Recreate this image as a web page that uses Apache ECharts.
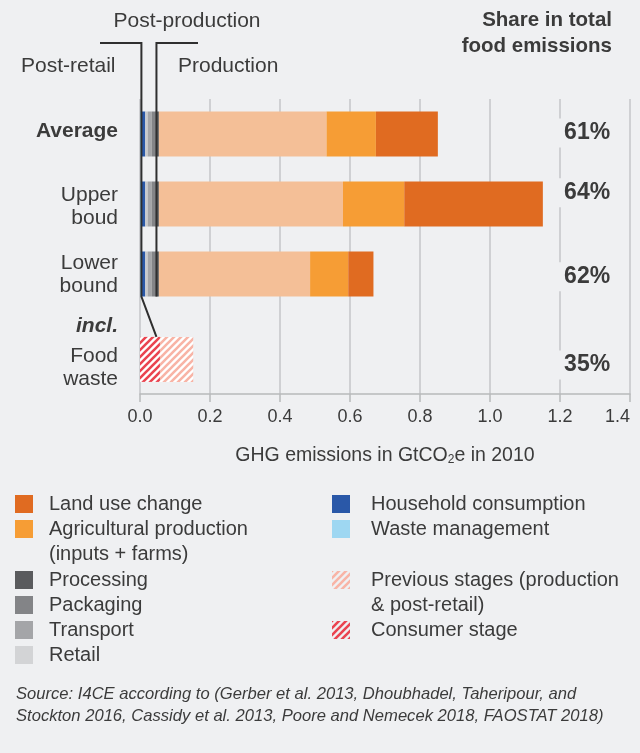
<!DOCTYPE html>
<html>
<head>
<meta charset="utf-8">
<script src="https://cdn.jsdelivr.net/npm/echarts@6/dist/echarts.min.js"></script>
<style>
  html, body { margin: 0; padding: 0; background: #eff0f2; }
  #chart { width: 640px; height: 753px; }
</style>
</head>
<body>
<div id="chart"></div>
<script>
// rows of the stacked bars
const rows = ['Average', 'Upper boud', 'Lower bound'];
// GHG emissions by stage, GtCO2e (left to right in each bar)
const wasteManagement = [0.003, 0.003, 0.003];
const householdConsumption = [0.012, 0.012, 0.012];
const retail = [0.007, 0.007, 0.007];
const transport = [0.012, 0.012, 0.012];
const packaging = [0.010, 0.010, 0.010];
const processing = [0.010, 0.010, 0.010];
const otherProduction = [0.479, 0.526, 0.432];
const agriculturalProduction = [0.141, 0.175, 0.109];
const landUseChange = [0.177, 0.396, 0.072];
// food waste bar
const consumerStage = [0.057];
const previousStages = [0.095];
// share in total food emissions
const shares = ['61%', '64%', '62%', '35%'];
const xTicks = [0, 0.2, 0.4, 0.6, 0.8, 1.0, 1.2, 1.4];

// layout (row positions on the hidden y scale)
const barRows = [1, 2, 3];
const foodRow = 4.22;
const BAR_H = 0.643;
const rowLabels = ['Average', 'Upper\nboud', 'Lower\nbound', 'incl.', 'Food\nwaste'];
const rowLabelPos = [0.965, 2.04, 3.01, 3.74, 4.34];
const shareLabelPos = [0.985, 1.84, 3.04, 4.3];

const FONT = '"Liberation Sans", Arial, Helvetica, sans-serif';
const TEXT = '#3b3b3b';
const BG = '#eff0f2';

function hatch(color, bg) {
  const s = 7;
  const c = document.createElement('canvas');
  c.width = s; c.height = s;
  const ctx = c.getContext('2d');
  ctx.fillStyle = bg;
  ctx.fillRect(0, 0, s, s);
  ctx.strokeStyle = color;
  ctx.lineWidth = 2.6;
  ctx.beginPath();
  ctx.moveTo(-s, s); ctx.lineTo(s, -s);
  ctx.moveTo(0, s); ctx.lineTo(s, 0);
  ctx.moveTo(0, 2 * s); ctx.lineTo(2 * s, 0);
  ctx.stroke();
  return { image: c, repeat: 'repeat' };
}

const consumerFill = hatch('#ea4450', '#ffffff');
const previousFill = hatch('#f8b4a6', '#ffffff');

const stages = [
  { name: 'Waste management', values: wasteManagement, color: '#9ed7f2' },
  { name: 'Household consumption', values: householdConsumption, color: '#2a58a8' },
  { name: 'Retail', values: retail, color: '#c9cacc' },
  { name: 'Transport', values: transport, color: '#a4a5a8' },
  { name: 'Packaging', values: packaging, color: '#838487' },
  { name: 'Processing', values: processing, color: '#5a5b5e' },
  { name: 'Production (other)', values: otherProduction, color: '#f4bf97' },
  { name: 'Agricultural production', values: agriculturalProduction, color: '#f69d35' },
  { name: 'Land use change', values: landUseChange, color: '#e06b21' }
];

// cumulative starts for the stacked segments
const cum = rows.map(() => 0);
const stageSeries = stages.map(st => {
  const data = rows.map((r, k) => {
    const start = cum[k];
    cum[k] += st.values[k];
    return [start, cum[k], barRows[k]];
  });
  return { name: st.name, fill: st.color, data: data };
});
stageSeries.push({ name: 'Consumer stage', fill: consumerFill,
  data: [[0, consumerStage[0], foodRow]] });
stageSeries.push({ name: 'Previous stages', fill: previousFill,
  data: [[consumerStage[0], consumerStage[0] + previousStages[0], foodRow]] });

function barSeries(s) {
  return {
    type: 'custom',
    name: s.name,
    silent: true,
    encode: { x: [0, 1], y: 2 },
    data: s.data,
    renderItem: function (params, api) {
      const p0 = api.coord([api.value(0), api.value(2)]);
      const p1 = api.coord([api.value(1), api.value(2)]);
      const h = api.size([0, BAR_H])[1];
      return {
        type: 'rect',
        shape: { x: p0[0], y: p0[1] - h / 2, width: p1[0] - p0[0], height: h },
        style: { fill: s.fill }
      };
    }
  };
}

const chart = echarts.init(document.getElementById('chart'));

const option = {
  backgroundColor: BG,
  animation: false,
  grid: { left: 140, right: 10, top: 99, bottom: 359 },
  xAxis: {
    type: 'value',
    min: 0,
    max: 1.4,
    interval: 0.2,
    axisLine: { show: true, lineStyle: { color: '#b8b9bb', width: 1.5 } },
    axisTick: { show: true, length: 8, lineStyle: { color: '#b8b9bb', width: 1.5 } },
    splitLine: { show: true, lineStyle: { color: '#c5c6c8', width: 1.5 } },
    axisLabel: {
      margin: 14,
      fontSize: 18,
      fontFamily: FONT,
      color: TEXT,
      alignMaxLabel: 'right',
      formatter: v => xTicks.includes(+v.toFixed(1)) ? v.toFixed(1) : ''
    },
    name: 'GHG emissions in GtCO{sub|2}e in 2010',
    nameLocation: 'middle',
    nameGap: 51,
    nameTextStyle: {
      fontSize: 19.5,
      fontFamily: FONT,
      color: TEXT,
      rich: { sub: { fontSize: 12, fontFamily: FONT, color: TEXT, verticalAlign: 'bottom', padding: [9, 0, 0, 0] } }
    }
  },
  yAxis: { type: 'value', min: 0.5, max: 4.7143, inverse: true, show: false },
  series: stageSeries.map(barSeries).concat([
    {
      type: 'custom',
      name: 'rowLabels',
      silent: true,
      encode: { x: 0, y: 1 },
      data: rowLabelPos.map((p, i) => [0, p, i]),
      renderItem: function (params, api) {
        const p = api.coord([0, api.value(1)]);
        const i = api.value(2);
        return {
          type: 'text',
          x: p[0] - 22,
          y: p[1],
          style: {
            text: rowLabels[i],
            textAlign: 'right',
            textVerticalAlign: 'middle',
            fontSize: 21,
            lineHeight: 23,
            fontWeight: (i === 0 || i === 3) ? 'bold' : 'normal',
            fontStyle: i === 3 ? 'italic' : 'normal',
            fontFamily: FONT,
            fill: TEXT
          }
        };
      }
    },
    {
      type: 'custom',
      name: 'shareLabels',
      silent: true,
      encode: { x: 0, y: 1 },
      data: shareLabelPos.map((p, i) => [1.349, p, i]),
      renderItem: function (params, api) {
        const p = api.coord([api.value(0), api.value(1)]);
        return {
          type: 'text',
          x: p[0],
          y: p[1],
          style: {
            text: shares[api.value(2)],
            textAlign: 'right',
            textVerticalAlign: 'middle',
            fontSize: 23,
            fontWeight: 'bold',
            fontFamily: FONT,
            fill: TEXT,
            backgroundColor: BG,
            padding: [3, 2, 3, 7]
          }
        };
      }
    }
  ])
};

chart.setOption(option);

// bracket annotations and legend
const postRetailX = 0.004;
const productionX = 0.047;
const xL = chart.convertToPixel({ gridIndex: 0 }, [postRetailX, 0])[0];
const xR = chart.convertToPixel({ gridIndex: 0 }, [productionX, 0])[0];
const lowerBottom = chart.convertToPixel({ gridIndex: 0 }, [0, barRows[2] + BAR_H / 2])[1];
const foodTop = chart.convertToPixel({ gridIndex: 0 }, [0, foodRow - BAR_H / 2])[1];

const legendLeft = [
  { name: 'Land use change', fill: '#e06b21', y: 504 },
  { name: 'Agricultural production\n(inputs + farms)', fill: '#f69d35', y: 529 },
  { name: 'Processing', fill: '#5a5b5e', y: 580 },
  { name: 'Packaging', fill: '#838487', y: 605 },
  { name: 'Transport', fill: '#a4a5a8', y: 630 },
  { name: 'Retail', fill: '#d3d4d6', y: 655 }
];
const legendRight = [
  { name: 'Household consumption', fill: '#2a58a8', y: 504 },
  { name: 'Waste management', fill: '#9ed7f2', y: 529 },
  { name: 'Previous stages (production\n& post-retail)', fill: hatch('#f8b4a6', BG), y: 580 },
  { name: 'Consumer stage', fill: hatch('#ea4450', BG), y: 630 }
];

function legendItems(items, iconX, textX) {
  const out = [];
  items.forEach(it => {
    out.push({ type: 'rect', left: iconX, top: it.y - 9, shape: { width: 18, height: 18 }, style: { fill: it.fill } });
    out.push({
      type: 'text', left: textX, top: it.y - 12.5,
      style: { text: it.name, fontSize: 20, lineHeight: 25, fontFamily: FONT, fill: TEXT }
    });
  });
  return out;
}

const txt = (x, y, s, extra) => ({
  type: 'text', x: x, y: y,
  style: Object.assign({ text: s, fontSize: 21, fontFamily: FONT, fill: TEXT, textVerticalAlign: 'middle' }, extra || {})
});

chart.setOption({
  graphic: [
    { type: 'polyline', shape: { points: [[100, 43], [xL, 43], [xL, lowerBottom], [xR, foodTop]] },
      style: { stroke: '#2f2f2f', lineWidth: 2, fill: null }, z: 10 },
    { type: 'polyline', shape: { points: [[198, 43], [xR, 43], [xR, lowerBottom]] },
      style: { stroke: '#2f2f2f', lineWidth: 2, fill: null }, z: 10 },
    txt(187, 21, 'Post-production', { textAlign: 'center' }),
    txt(21, 66, 'Post-retail'),
    txt(178, 66, 'Production'),
    txt(612, 20, 'Share in total', { textAlign: 'right', fontWeight: 'bold', fontSize: 20.5 }),
    txt(612, 46, 'food emissions', { textAlign: 'right', fontWeight: 'bold', fontSize: 20.5 }),
    txt(16, 694, 'Source: I4CE according to (Gerber et al. 2013, Dhoubhadel, Taheripour, and',
      { fontSize: 16.6, fontStyle: 'italic' }),
    txt(16, 716, 'Stockton 2016, Cassidy et al. 2013, Poore and Nemecek 2018, FAOSTAT 2018)',
      { fontSize: 16.6, fontStyle: 'italic' })
  ].concat(legendItems(legendLeft, 15, 49), legendItems(legendRight, 332, 371))
});
</script>
</body>
</html>
